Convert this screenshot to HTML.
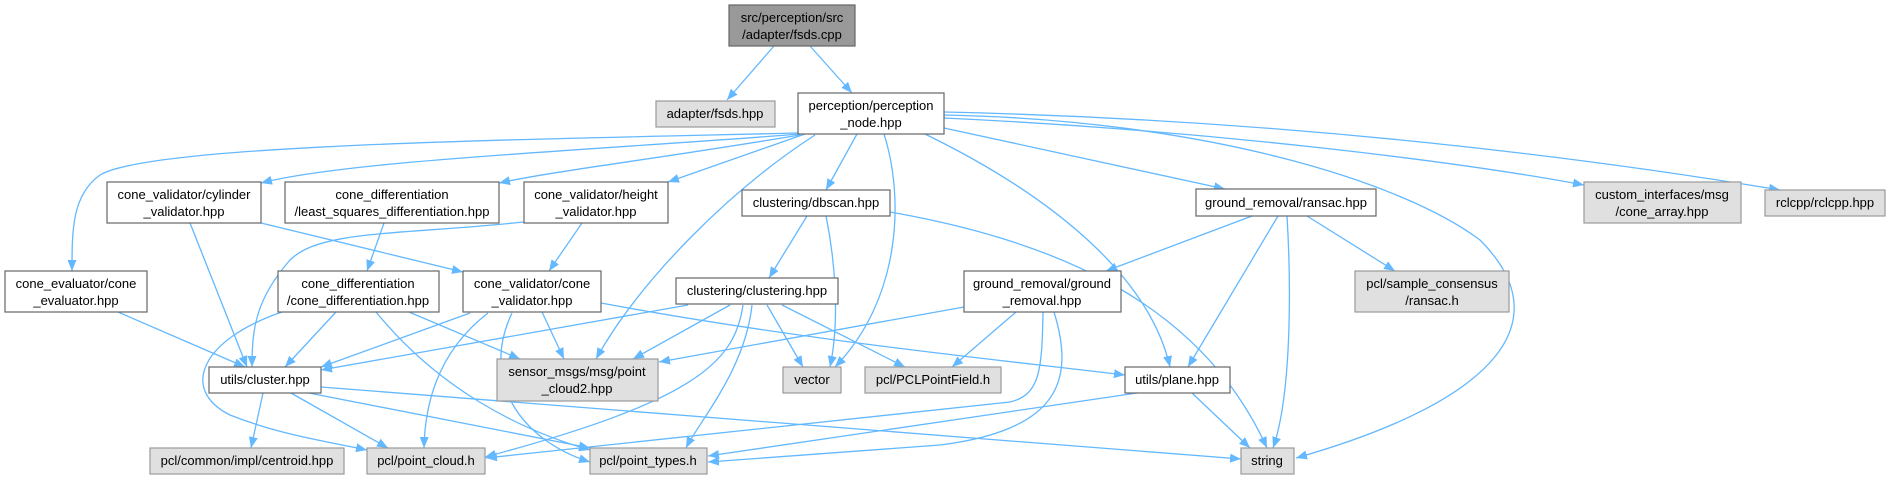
<!DOCTYPE html>
<html><head><meta charset="utf-8"><style>
html,body{margin:0;padding:0;background:#fff;}
svg{display:block;}
text{font-family:"Liberation Sans",Arial,sans-serif;font-size:13px;fill:#000;text-anchor:middle;}
.e{fill:none;stroke:#63b8ff;stroke-width:1.3;marker-end:url(#a);}
.w{fill:#fff;stroke:#666;stroke-width:1.2;}
.g{fill:#e0e0e0;stroke:#999;stroke-width:1.2;}
.r{fill:#999;stroke:#666;stroke-width:1.2;}
</style></head><body>
<svg width="1892" height="480" viewBox="0 0 1892 480" xmlns="http://www.w3.org/2000/svg">
<defs><marker id="a" markerUnits="userSpaceOnUse" markerWidth="12" markerHeight="10" refX="11" refY="4.5" orient="auto"><path d="M0,0 L11,4.5 L0,9 z" fill="#63b8ff"/></marker></defs>
<g>
<path class="e" d="M774,46 L727,100"/>
<path class="e" d="M810,46 L852,93"/>
<path class="e" d="M798,133 C500,140 150,145 100,175 C72,195 72,230 72,271"/>
<path class="e" d="M800,134 C600,150 350,160 261,183"/>
<path class="e" d="M800,135 C650,160 560,170 499,183"/>
<path class="e" d="M805,134 L668,182"/>
<path class="e" d="M857,134 L826,190"/>
<path class="e" d="M815,135 C730,190 640,280 596,359"/>
<path class="e" d="M884,134 C905,200 900,300 835,367"/>
<path class="e" d="M944,128 L1225,189"/>
<path class="e" d="M925,134 C1060,200 1150,280 1170,367"/>
<path class="e" d="M944,115 C1200,120 1400,180 1480,240 C1560,320 1500,400 1296,458"/>
<path class="e" d="M944,118 C1200,130 1450,160 1584,185"/>
<path class="e" d="M944,112 C1300,120 1600,160 1780,190"/>
<path class="e" d="M190,223 L247,367"/>
<path class="e" d="M261,223 C350,245 420,262 463,272"/>
<path class="e" d="M384,223 L367,271"/>
<path class="e" d="M582,223 L549,271"/>
<path class="e" d="M524,222 C400,235 320,230 290,260 C255,300 252,330 252,367"/>
<path class="e" d="M118,312 L245,367"/>
<path class="e" d="M336,312 L285,367"/>
<path class="e" d="M282,312 C200,340 180,390 230,415 C280,435 330,442 367,450"/>
<path class="e" d="M409,312 L520,359"/>
<path class="e" d="M376,312 C440,390 520,430 590,450"/>
<path class="e" d="M470,313 L321,367"/>
<path class="e" d="M488,313 C440,350 425,400 424,448"/>
<path class="e" d="M542,312 L564,359"/>
<path class="e" d="M512,313 C480,380 520,440 590,462"/>
<path class="e" d="M601,303 C800,340 1000,360 1125,375"/>
<path class="e" d="M688,305 L321,370"/>
<path class="e" d="M730,305 L633,359"/>
<path class="e" d="M767,305 L803,367"/>
<path class="e" d="M782,305 L905,367"/>
<path class="e" d="M743,305 C735,360 700,400 485,457"/>
<path class="e" d="M752,305 C745,370 700,420 686,448"/>
<path class="e" d="M807,216 L769,278"/>
<path class="e" d="M826,216 C835,260 840,320 830,367"/>
<path class="e" d="M890,212 C1050,240 1200,300 1267,448"/>
<path class="e" d="M1252,216 L1106,271"/>
<path class="e" d="M1278,216 L1188,367"/>
<path class="e" d="M1287,216 C1292,300 1290,400 1273,448"/>
<path class="e" d="M1307,216 L1395,271"/>
<path class="e" d="M964,307 L659,362"/>
<path class="e" d="M1016,312 L952,367"/>
<path class="e" d="M1043,312 C1042,370 1040,395 1010,402 L486,458"/>
<path class="e" d="M1054,312 C1075,380 1060,430 940,445 L708,462"/>
<path class="e" d="M263,393 L251,448"/>
<path class="e" d="M291,393 L388,448"/>
<path class="e" d="M309,393 L590,448"/>
<path class="e" d="M321,387 L1241,459"/>
<path class="e" d="M1137,393 L708,456"/>
<path class="e" d="M1192,393 L1250,448"/>
</g>
<g>
<rect class="r" x="729" y="5" width="126" height="41"/><text x="792" y="22">src/perception/src</text><text x="792" y="39">/adapter/fsds.cpp</text>
<rect class="g" x="656" y="101" width="119" height="26"/><text x="715" y="118">adapter/fsds.hpp</text>
<rect class="w" x="798" y="93" width="146" height="41"/><text x="871" y="110">perception/perception</text><text x="871" y="127">_node.hpp</text>
<rect class="w" x="107" y="182" width="154" height="41"/><text x="184" y="199">cone_validator/cylinder</text><text x="184" y="216">_validator.hpp</text>
<rect class="w" x="285" y="182" width="214" height="41"/><text x="392" y="199">cone_differentiation</text><text x="392" y="216">/least_squares_differentiation.hpp</text>
<rect class="w" x="524" y="182" width="144" height="41"/><text x="596" y="199">cone_validator/height</text><text x="596" y="216">_validator.hpp</text>
<rect class="w" x="742" y="190" width="148" height="26"/><text x="816" y="207">clustering/dbscan.hpp</text>
<rect class="w" x="1196" y="189" width="180" height="27"/><text x="1286" y="207">ground_removal/ransac.hpp</text>
<rect class="g" x="1584" y="182" width="157" height="41"/><text x="1662" y="199">custom_interfaces/msg</text><text x="1662" y="216">/cone_array.hpp</text>
<rect class="g" x="1765" y="190" width="120" height="26"/><text x="1825" y="207">rclcpp/rclcpp.hpp</text>
<rect class="w" x="5" y="271" width="142" height="41"/><text x="76" y="288">cone_evaluator/cone</text><text x="76" y="305">_evaluator.hpp</text>
<rect class="w" x="278" y="271" width="161" height="41"/><text x="358" y="288">cone_differentiation</text><text x="358" y="305">/cone_differentiation.hpp</text>
<rect class="w" x="463" y="271" width="138" height="41"/><text x="532" y="288">cone_validator/cone</text><text x="532" y="305">_validator.hpp</text>
<rect class="w" x="676" y="278" width="162" height="26"/><text x="757" y="295">clustering/clustering.hpp</text>
<rect class="w" x="964" y="271" width="157" height="41"/><text x="1042" y="288">ground_removal/ground</text><text x="1042" y="305">_removal.hpp</text>
<rect class="g" x="1355" y="271" width="154" height="41"/><text x="1432" y="288">pcl/sample_consensus</text><text x="1432" y="305">/ransac.h</text>
<rect class="g" x="497" y="359" width="161" height="42"/><text x="577" y="376">sensor_msgs/msg/point</text><text x="577" y="393">_cloud2.hpp</text>
<rect class="g" x="783" y="367" width="58" height="26"/><text x="812" y="384">vector</text>
<rect class="g" x="865" y="367" width="136" height="26"/><text x="933" y="384">pcl/PCLPointField.h</text>
<rect class="w" x="209" y="367" width="112" height="26"/><text x="265" y="384">utils/cluster.hpp</text>
<rect class="w" x="1125" y="367" width="105" height="26"/><text x="1177" y="384">utils/plane.hpp</text>
<rect class="g" x="150" y="448" width="194" height="26"/><text x="247" y="465">pcl/common/impl/centroid.hpp</text>
<rect class="g" x="367" y="448" width="118" height="26"/><text x="426" y="465">pcl/point_cloud.h</text>
<rect class="g" x="590" y="448" width="117" height="26"/><text x="648" y="465">pcl/point_types.h</text>
<rect class="g" x="1241" y="448" width="53" height="26"/><text x="1267" y="465">string</text>
</g>
</svg>
</body></html>
